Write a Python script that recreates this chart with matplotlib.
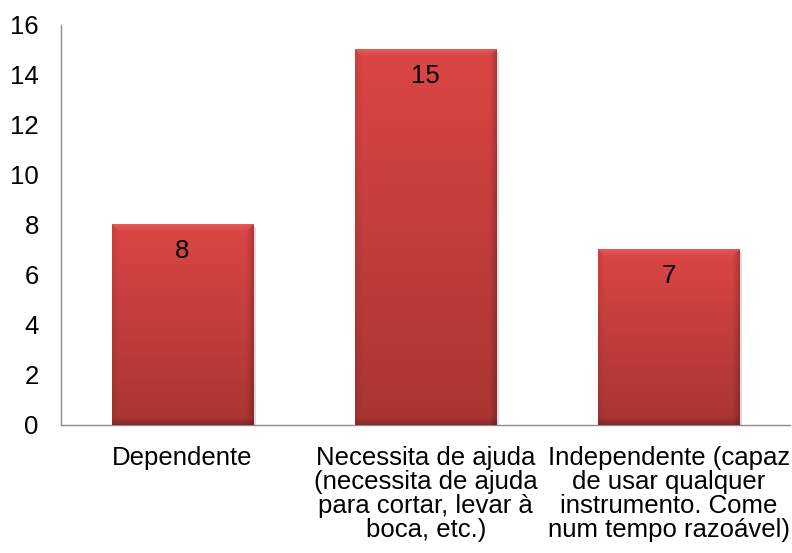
import matplotlib
matplotlib.use('Agg')
from matplotlib import pyplot as plt
import numpy as np

categories = [
    'Dependente',
    'Necessita de ajuda\n(necessita de ajuda\npara cortar, levar à\nboca, etc.)',
    'Independente (capaz\nde usar qualquer\ninstrumento. Come\nnum tempo razoável)',
]
values = [8, 15, 7]
y_ticks = [0, 2, 4, 6, 8, 10, 12, 14, 16]

plt.rcParams['font.family'] = ['Liberation Sans', 'DejaVu Sans']
FS = 18.5

fig = plt.figure(figsize=(7.92, 5.53), dpi=100)
ax = fig.add_axes([0.077, 0.2315, 0.921, 0.7235])
ax.set_xlim(-0.5, 2.5)
ax.set_ylim(0, 16)

x = np.arange(len(categories))
bars = ax.bar(x, values, width=0.58, color='#C93C3A', edgecolor='none', zorder=2)

# pixel size of one data unit (used for bevel widths)
px_x = ax.transData.transform((1, 0))[0] - ax.transData.transform((0, 0))[0]
px_y = ax.transData.transform((0, 1))[1] - ax.transData.transform((0, 0))[1]

top_col = np.array([219, 70, 68]) / 255.0
bot_col = np.array([168, 53, 51]) / 255.0
light = np.array([238, 112, 110]) / 255.0
bev = 7.0

for b in bars:
    x0, w, h = b.get_x(), b.get_width(), b.get_height()
    nx, ny = int(round(w * px_x)), int(round(h * px_y))
    t = np.linspace(0, 1, ny)[:, None, None]
    img = np.repeat(top_col * (1 - t) + bot_col * t, nx, axis=1)
    yy, xx = np.mgrid[0:ny, 0:nx].astype(float)
    # distance to each edge, ramped over the bevel width
    d_left = np.clip(1 - xx / bev, 0, 1)
    d_right = np.clip(1 - (nx - 1 - xx) / bev, 0, 1)
    d_top = np.clip(1 - yy / bev, 0, 1)
    d_bot = np.clip(1 - (ny - 1 - yy) / bev, 0, 1)
    k_top = d_top * (d_top >= np.maximum(d_left, d_right))
    img = img * (1 - 0.08 * d_left[..., None]) * (1 - 0.2 * d_right[..., None]) \
        * (1 - 0.2 * d_bot[..., None])
    img = img * (1 - 0.5 * k_top[..., None]) + light * 0.5 * k_top[..., None]
    img = np.clip(img, 0, 1)
    ax.imshow(img, extent=[x0, x0 + w, 0, h], origin='upper',
              aspect='auto', interpolation='bilinear', zorder=3)
    # soft shadow on the right
    ax.bar(x0 + w, h - 0.1, width=3.0 / px_x, align='edge', color='#dcdcdc',
           edgecolor='none', zorder=1)

for xi, v in zip(x, values):
    ax.annotate(str(v), (xi, v), xytext=(0, -19), textcoords='offset points',
                ha='center', va='center', fontsize=FS, color='black', zorder=4)

ax.set_xlim(-0.5, 2.5)
ax.set_ylim(0, 16)
ax.set_yticks(y_ticks)
ax.set_xticks(x)
ax.set_xticklabels(categories, fontsize=FS, linespacing=1.0)
ax.tick_params(axis='y', labelsize=FS, length=0, pad=16)
ax.tick_params(axis='x', length=0, pad=15)

for side_name in ['top', 'right']:
    ax.spines[side_name].set_visible(False)
for side_name in ['left', 'bottom']:
    ax.spines[side_name].set_color('#8c8c8c')
    ax.spines[side_name].set_linewidth(1.0)

fig.savefig('out.png', dpi=100)
